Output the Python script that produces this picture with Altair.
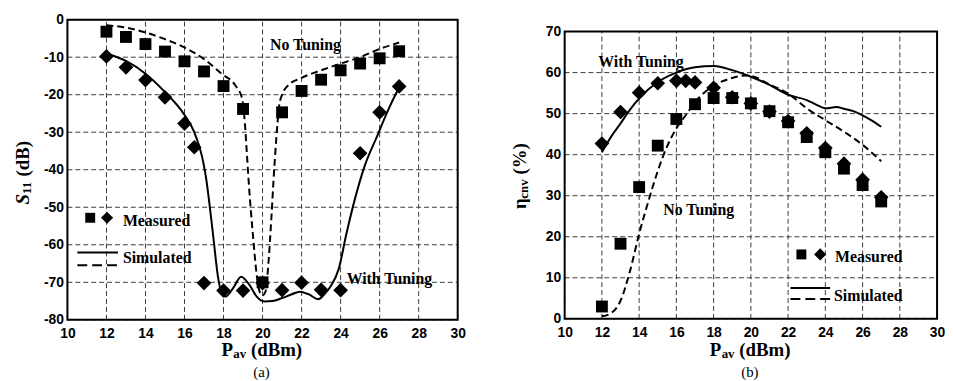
import altair as alt
import pandas as pd

# ---------------- shared axes ----------------
X_DOMAIN = [10, 30]
X_TICKS = list(range(10, 31, 2))
A_Y_DOMAIN = [-80, 0]
A_Y_TICKS = list(range(-80, 1, 10))
B_Y_DOMAIN = [0, 70]
B_Y_TICKS = list(range(0, 71, 10))

# ---------------- panel (a): S11 ----------------
a_sq_x = [12, 13, 14, 15, 16, 17, 18, 19, 20, 21, 22, 23, 24, 25, 26, 27]
a_sq_y = [-3.2, -4.6, -6.5, -8.5, -11.1, -13.8, -17.7, -23.8, -70.0, -24.7, -19.0, -16.0, -13.5, -11.7, -10.3, -8.4]
a_di_x = [12, 13, 14, 15, 16, 16.5, 17, 18, 19, 20, 21, 22, 23, 24, 25, 26, 27]
a_di_y = [-9.8, -12.7, -16.1, -20.7, -27.7, -34.0, -70.2, -72.2, -72.2, -70.2, -72.1, -70.1, -72.0, -72.1, -35.6, -24.7, -17.8]
a_tun_x = [12, 13, 14, 15, 16, 16.5, 16.9, 17.1, 17.3, 17.5, 17.7, 17.9, 18.1, 18.5, 18.9, 19.3, 19.7,
           20.1, 20.5, 21.0, 21.5, 21.9, 22.4, 22.85, 23.2, 23.5, 23.9, 24.3, 24.8, 25.2, 25.9, 26.4, 27]
a_tun_y = [-9.0, -11.0, -14.4, -19.3, -25.4, -30.0, -36.5, -42.0, -50.0, -59.0, -68.0, -72.8, -73.8, -71.5,
           -68.5, -70.5, -73.8, -75.1, -75.0, -74.2, -73.2, -72.5, -73.3, -74.5, -73.0, -71.0, -66.5, -57.0,
           -46.5, -39.5, -30.7, -24.5, -18.0]
a_not_x = [12, 13, 14, 15, 16, 17, 17.9, 18.6, 18.95, 19.1, 19.2, 19.3, 19.5, 19.7, 19.85, 20.0, 20.15,
           20.3, 20.45, 20.56, 20.7, 20.85, 21.0, 21.3, 22, 23, 24, 25, 26, 27]
a_not_y = [-1.5, -2.1, -3.4, -5.2, -7.4, -10.5, -14.4, -17.5, -21.0, -28.0, -36.0, -44.0, -57.0, -68.0,
           -72.5, -73.5, -72.5, -65.0, -53.0, -43.0, -32.0, -23.0, -20.0, -17.6, -15.5, -13.5, -11.7,
           -10.0, -7.8, -6.1]

# ---------------- panel (b): efficiency ----------------
b_sq_x = [12, 13, 14, 15, 16, 17, 18, 19, 20, 21, 22, 23, 24, 25, 26, 27]
b_sq_y = [3.0, 18.3, 32.1, 42.2, 48.7, 52.3, 53.8, 53.8, 52.5, 50.6, 47.9, 44.3, 40.6, 36.6, 32.6, 28.6]
b_di_x = [12, 13, 14, 15, 16, 16.5, 17, 18, 19, 20, 21, 22, 23, 24, 25, 26, 27]
b_di_y = [42.7, 50.4, 55.1, 57.4, 58.0, 58.0, 57.6, 56.3, 54.0, 52.5, 50.5, 48.2, 45.2, 41.6, 37.8, 33.9, 29.6]
b_tun_x = [12, 12.5, 13, 13.5, 14, 15, 16, 17, 18, 19, 20, 21, 22, 23, 23.5, 24, 24.6, 25, 25.5, 26, 26.5, 27]
b_tun_y = [40.6, 44.4, 47.6, 50.9, 53.7, 57.7, 60.0, 61.3, 61.6, 60.6, 59.0, 57.0, 54.6, 53.3, 52.2, 51.3,
           51.6, 51.2, 50.6, 49.6, 48.3, 46.8]
b_not_x = [12, 12.5, 13, 13.5, 14, 14.5, 15, 15.5, 16, 16.5, 17, 18, 19, 19.7, 20, 21, 22, 23, 24, 25, 26, 27]
b_not_y = [0.6, 1.4, 4.4, 11.5, 20.7, 28.7, 36.0, 42.0, 46.4, 49.6, 52.8, 56.8, 58.7, 59.3, 59.2, 57.1,
           54.9, 51.3, 48.4, 45.6, 42.4, 38.4]

# annotation labels (data coordinates)
a_lab_text = ["No Tuning", "With Tuning"]
a_lab_x = [22.2, 26.5]
a_lab_y = [-6.8, -69.2]
b_lab_text = ["With Tuning", "No Tuning"]
b_lab_x = [14.1, 17.2]
b_lab_y = [62.5, 26.5]

# ---------------- styling ----------------
TICK_FONT = "Liberation Sans"
SERIF = "Liberation Serif"
GRID = dict(color="#3a3a3a", strokeWidth=1, strokeDash=[5, 3])
ONE = pd.DataFrame({"k": [0]})


def df(xs, ys):
    return pd.DataFrame({"x": xs, "y": ys})


def x_enc():
    return alt.X("x:Q", scale=alt.Scale(domain=X_DOMAIN, nice=False, zero=False),
                 axis=alt.Axis(values=X_TICKS, title=None, grid=False, domain=False, ticks=False,
                               labelFlush=False, labelOverlap=False, labelFont=TICK_FONT,
                               labelFontWeight="bold", labelFontSize=14, labelColor="black",
                               labelPadding=7))


def y_enc(dom, ticks):
    return alt.Y("y:Q", scale=alt.Scale(domain=dom, nice=False, zero=False),
                 axis=alt.Axis(values=ticks, title=None, grid=False, domain=False, ticks=False,
                               labelFlush=False, labelOverlap=False, labelFont=TICK_FONT,
                               labelFontWeight="bold", labelFontSize=14, labelColor="black",
                               labelPadding=4, labelExpr="datum.value + ''"))


def txt(s, x, y, size, dx=0, dy=0, angle=0, style="normal", weight="bold", align="left"):
    return alt.Chart(ONE).mark_text(text=s, fontSize=size, dx=dx, dy=dy, angle=angle, fontStyle=style,
                                    fontWeight=weight, align=align, baseline="middle", font=SERIF,
                                    color="black").encode(x=alt.value(x), y=alt.value(y))


def panel(w, h, ydom, yticks, yrange, sq, di, tun, nt, labels, legend, ytitle, xtitle_x, caption):
    X = x_enc()
    Y = y_enc(ydom, yticks)
    layers = []
    vgrid = pd.DataFrame({"x": X_TICKS, "y": yrange[0], "y2": yrange[1]})
    layers.append(alt.Chart(vgrid).mark_rule(**GRID).encode(x=X, y=Y, y2="y2:Q"))
    hgrid = pd.DataFrame({"y": yticks, "x": X_DOMAIN[0], "x2": X_DOMAIN[1]})
    layers.append(alt.Chart(hgrid).mark_rule(**GRID).encode(x=X, x2="x2:Q", y=Y))
    border = pd.DataFrame({"x": [X_DOMAIN[0]], "x2": [X_DOMAIN[1]], "y": [yrange[0]], "y2": [yrange[1]]})
    layers.append(alt.Chart(border).mark_rect(filled=False, color="black", strokeWidth=2)
                  .encode(x=X, x2="x2:Q", y=Y, y2="y2:Q"))
    layers.append(alt.Chart(df(*tun)).mark_line(color="black", strokeWidth=2, interpolate="monotone")
                  .encode(x=X, y=Y))
    layers.append(alt.Chart(df(*nt)).mark_line(color="black", strokeWidth=2, strokeDash=[7, 4],
                                               interpolate="monotone").encode(x=X, y=Y))
    layers.append(alt.Chart(df(*sq)).mark_point(shape="square", filled=True, size=144, color="black",
                                                opacity=1).encode(x=X, y=Y))
    layers.append(alt.Chart(df(*di)).mark_point(shape="diamond", filled=True, size=220, color="black",
                                                opacity=1).encode(x=X, y=Y))
    lab = pd.DataFrame({"x": labels[1], "y": labels[2], "t": labels[0]})
    layers.append(alt.Chart(lab).mark_text(font=SERIF, fontWeight="bold", fontSize=16, color="black")
                  .encode(x=X, y=Y, text="t:N"))
    # legend glyphs (pixel positions)
    (sqx, sqy), (dix, diy), (mx, my), (lx1, lx2, ly1, ly2), (sx, sy) = legend
    layers.append(alt.Chart(ONE).mark_point(shape="square", filled=True, size=100, color="black", opacity=1)
                  .encode(x=alt.value(sqx), y=alt.value(sqy)))
    layers.append(alt.Chart(ONE).mark_point(shape="diamond", filled=True, size=150, color="black", opacity=1)
                  .encode(x=alt.value(dix), y=alt.value(diy)))
    layers.append(txt("Measured", mx, my, 16))
    layers.append(alt.Chart(ONE).mark_rule(color="black", strokeWidth=2)
                  .encode(x=alt.value(lx1), x2=alt.value(lx2), y=alt.value(ly1)))
    layers.append(alt.Chart(ONE).mark_rule(color="black", strokeWidth=2, strokeDash=[10, 5])
                  .encode(x=alt.value(lx1), x2=alt.value(lx2), y=alt.value(ly2)))
    layers.append(txt("Simulated", sx, sy, 16))
    # y title (rotated, with subscript)
    tx, ty, main, sub, rest, wmain, wsub = ytitle
    start = -(wmain + wsub + 4.75 + len(rest) * 9.2) / 2
    layers.append(txt(main, tx, ty, 19, dx=start, angle=270, style="italic" if main == "S" else "normal"))
    layers.append(txt(sub, tx, ty, 13, dx=start + wmain, dy=4, angle=270))
    layers.append(txt(rest, tx, ty, 19, dx=start + wmain + wsub + 4.75, angle=270))
    # x title P_av (dBm)
    xs = -40.5
    ty_x = 334
    layers.append(txt("P", xtitle_x, ty_x, 19, dx=xs))
    layers.append(txt("av", xtitle_x, ty_x, 13, dx=xs + 12.0, dy=4))
    layers.append(txt("(dBm)", xtitle_x, ty_x, 19, dx=xs + 12.0 + 13 + 4.75))
    layers.append(txt(caption, xtitle_x, 356, 15, weight="normal", align="center"))
    return alt.layer(*layers).properties(width=w, height=h)


left = panel(
    394, 303, A_Y_DOMAIN, A_Y_TICKS, A_Y_DOMAIN,
    (a_sq_x, a_sq_y), (a_di_x, a_di_y), (a_tun_x, a_tun_y), (a_not_x, a_not_y),
    (a_lab_text, a_lab_x, a_lab_y),
    ((23, 200), (40, 200), (56, 203), (10, 51, 235, 248), (56, 241)),
    (-45, 154, "S", "11", "(dB)", 10.6, 13.0),
    196, "(a)")
# anchor to fix the page offset of the left panel (invisible white dot)
anchor = alt.Chart(ONE).mark_rule(color="white", strokeWidth=1).encode(
    x=alt.value(-59), y=alt.value(-9), y2=alt.value(-8))
left = alt.layer(left, anchor)

B_TOP = 70 + 12 * 70 / 290
right = panel(
    376, 302, [0, B_TOP], B_Y_TICKS, B_Y_DOMAIN,
    (b_sq_x, b_sq_y), (b_di_x, b_di_y), (b_tun_x, b_tun_y), (b_not_x, b_not_y),
    (b_lab_text, b_lab_x, b_lab_y),
    ((239, 237), (258, 237), (273, 240), (228, 268, 271, 282), (272, 279)),
    (-45, 160, "η", "cnv", "(%)", 10.5, 19.5),
    187, "(b)")

chart = alt.hconcat(left, right, spacing=108, bounds="flush").configure_view(stroke=None).properties(
    padding={"left": 0, "top": 0, "right": 0, "bottom": 0})

chart.save("out.html", embed_options={"renderer": "svg", "actions": False})
